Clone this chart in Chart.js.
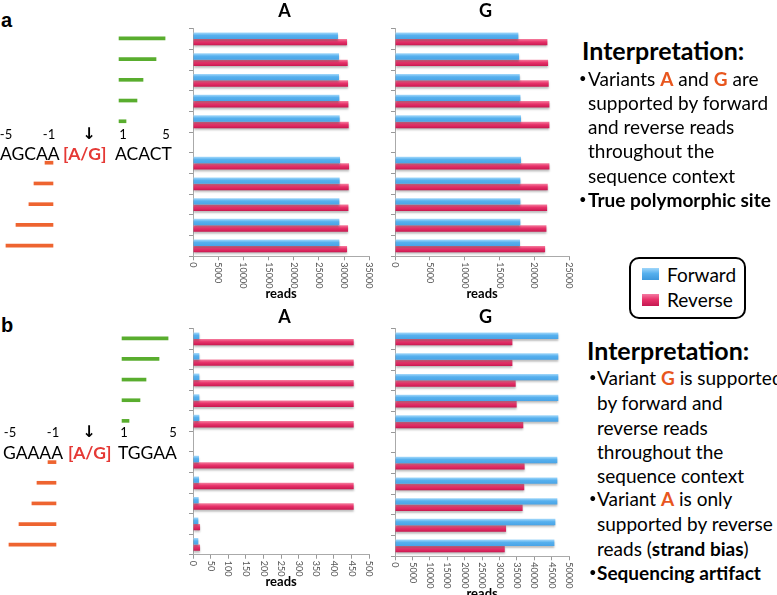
<!DOCTYPE html>
<html>
<head>
<meta charset="utf-8">
<script src="https://cdn.jsdelivr.net/npm/chart.js@4.4.0/dist/chart.umd.min.js"></script>
<style>
  body { margin: 0; width: 777px; height: 595px; position: relative; overflow: hidden; background: #fff; font-family: Lato, "Open Sans", sans-serif; color: #000; }
  .box { position: absolute; }
  .t { position: absolute; white-space: nowrap; transform: translateY(-50%); }
  .c { position: absolute; white-space: nowrap; transform: translate(-50%, -50%); }
  .seq { font-size: 17.5px; }
  .red { color: #e53935; font-weight: bold; }
  .hl { color: #e8561e; font-weight: bold; }
  .pos { font-size: 13px; }
  .arrow { font-family: "DejaVu Sans"; font-weight: bold; font-size: 16px; }
  .panel { font-family: Arial, "Liberation Sans", sans-serif; font-weight: bold; font-size: 20px; }
  .head { font-weight: bold; font-size: 25px; }
  .txt { font-size: 19px; }
  .bul { font-size: 13px; }
  .legend { position: absolute; left: 629px; top: 257px; width: 113px; height: 58px; border: 2px solid #000; border-radius: 10px; }
  .sw { position: absolute; left: 11px; width: 17px; height: 12px; }
</style>
</head>
<body>

<div class="t panel" style="left:1px; top:20px;">a</div>
<div class="t panel" style="left:1px; top:325px;">b</div>

<!-- reads around the site, panel a -->
<div class="box" style="left:0; top:0;"><canvas id="readsA" width="180" height="300"></canvas></div>
<div class="c pos" style="left:6px; top:134px;">-5</div>
<div class="c pos" style="left:49px; top:134px;">-1</div>
<div class="c arrow" style="left:89px; top:133px;">↓</div>
<div class="c pos" style="left:123px; top:134px;">1</div>
<div class="c pos" style="left:166px; top:134px;">5</div>
<div class="t seq" style="left:0; top:153px;">AGCAA</div>
<div class="t seq red" style="left:63px; top:153px;">[A/G]</div>
<div class="t seq" style="left:115px; top:153px;">ACACT</div>

<!-- reads around the site, panel b -->
<div class="box" style="left:3px; top:300px;"><canvas id="readsB" width="180" height="295"></canvas></div>
<div class="c pos" style="left:10px; top:432px;">-5</div>
<div class="c pos" style="left:53px; top:432px;">-1</div>
<div class="c arrow" style="left:89px; top:431px;">↓</div>
<div class="c pos" style="left:124px; top:432px;">1</div>
<div class="c pos" style="left:173px; top:432px;">5</div>
<div class="t seq" style="left:3px; top:452px;">GAAAA</div>
<div class="t seq red" style="left:68px; top:452px;">[A/G]</div>
<div class="t seq" style="left:118px; top:452px;">TGGAA</div>

<!-- bar charts -->
<div class="box" style="left:180px; top:0;"><canvas id="aA" width="200" height="304"></canvas></div>
<div class="box" style="left:380px; top:0;"><canvas id="aG" width="200" height="304"></canvas></div>
<div class="box" style="left:180px; top:300px;"><canvas id="bA" width="200" height="292"></canvas></div>
<div class="box" style="left:380px; top:300px;"><canvas id="bG" width="200" height="304"></canvas></div>

<!-- interpretation, panel a -->
<div class="t head" style="left:582px; top:50px;">Interpretation:</div>
<div class="t bul" style="left:579px; top:78px;">•</div>
<div class="t txt" style="left:588px; top:78px;">Variants <span class="hl">A</span> and <span class="hl">G</span> are</div>
<div class="t txt" style="left:588px; top:102px;">supported by forward</div>
<div class="t txt" style="left:588px; top:126px;">and reverse reads</div>
<div class="t txt" style="left:588px; top:150px;">throughout the</div>
<div class="t txt" style="left:588px; top:175px;">sequence context</div>
<div class="t bul" style="left:579px; top:199px;">•</div>
<div class="t txt" style="left:588px; top:199px;"><b>True polymorphic site</b></div>

<!-- shared legend -->
<div class="legend">
  <div class="sw" style="top:9px; background:linear-gradient(#9fd6fa,#56b0ee 45%,#3c98dc);"></div>
  <div class="t txt" style="left:36px; top:15px;">Forward</div>
  <div class="sw" style="top:35px; background:linear-gradient(#f47aa2,#e8336b 45%,#c41850);"></div>
  <div class="t txt" style="left:36px; top:40px;">Reverse</div>
</div>

<!-- interpretation, panel b -->
<div class="t head" style="left:587px; top:350px;">Interpretation:</div>
<div class="t bul" style="left:589px; top:377px;">•</div>
<div class="t txt" style="left:597px; top:377px;">Variant <span class="hl">G</span> is supported</div>
<div class="t txt" style="left:597px; top:402px;">by forward and</div>
<div class="t txt" style="left:597px; top:427px;">reverse reads</div>
<div class="t txt" style="left:597px; top:451px;">throughout the</div>
<div class="t txt" style="left:597px; top:475px;">sequence context</div>
<div class="t bul" style="left:589px; top:498px;">•</div>
<div class="t txt" style="left:597px; top:498px;">Variant <span class="hl">A</span> is only</div>
<div class="t txt" style="left:597px; top:523px;">supported by reverse</div>
<div class="t txt" style="left:597px; top:548px;">reads (<b>strand bias</b>)</div>
<div class="t bul" style="left:589px; top:572px;">•</div>
<div class="t txt" style="left:597px; top:572px;"><b>Sequencing artifact</b></div>

<script>
// 11 slots per chart: 5 positions, an empty slot, 5 positions
const rows = ['r1', 'r2', 'r3', 'r4', 'r5', '', 'r6', 'r7', 'r8', 'r9', 'r10'];

// panel a (true polymorphic site)
const fwdA_a = [28800, 29000, 29000, 29070, 29130, null, 29200, 29130, 29070, 29070, 29070];
const revA_a = [30600, 30730, 30800, 30870, 30930, null, 31000, 30930, 30870, 30800, 30600];
const fwdG_a = [17700, 17800, 17900, 18000, 18080, null, 18080, 17990, 17990, 17990, 17940];
const revG_a = [21870, 21970, 22060, 22160, 22160, null, 22160, 21920, 21830, 21730, 21540];

// panel b (sequencing artifact)
const fwdA_b = [18, 18, 18, 18, 18, null, 17, 17, 16, 15, 15];
const revA_b = [456, 456, 456, 456, 456, null, 456, 456, 456, 20, 20];
const fwdG_b = [46870, 46870, 46870, 46870, 46870, null, 46590, 46590, 46590, 46020, 45740];
const revG_b = [33690, 33690, 34640, 34920, 36820, null, 37200, 37100, 36630, 31880, 31500];

// schematic reads: [start, end] in base positions relative to the site
const fwdReads = [[0.63, 4.91], [0.63, 4.07], [0.63, 2.86], [0.63, 2.3], [0.63, 1.28], null, null, null, null, null, null];
const revReads = [null, null, null, null, null, null, [-1.44, -0.73], [-2.42, -0.73], [-2.87, -0.73], [-4.02, -0.73], [-4.91, -0.73]];

const CAT = 0.62;
const FONT = 'Lato, "Open Sans", sans-serif';

function barFill(base, light, dark) {
  return function (ctx) {
    const y = ctx.chart.scales.y;
    if (!y || ctx.type !== 'data') return base;
    const c = y.getPixelForValue(ctx.dataIndex);
    const band = y.height / rows.length * CAT / 2;
    if (!isFinite(c) || !isFinite(band)) return base;
    const top = ctx.datasetIndex === 0 ? c - band : c;
    const g = ctx.chart.ctx.createLinearGradient(0, top, 0, top + band);
    g.addColorStop(0, light);
    g.addColorStop(0.45, base);
    g.addColorStop(1, dark);
    return g;
  };
}

const shadow = {
  id: 'shadow',
  beforeDatasetsDraw(chart) {
    const c = chart.ctx;
    c.save();
    c.shadowColor = 'rgba(0,0,0,0.25)';
    c.shadowBlur = 2;
    c.shadowOffsetY = 2;
  },
  afterDatasetsDraw(chart) { chart.ctx.restore(); }
};

// x tick labels turned clockwise, read top to bottom
const downLabels = {
  id: 'downLabels',
  afterDraw(chart) {
    const s = chart.scales.x, c = chart.ctx;
    c.save();
    c.fillStyle = '#555';
    c.font = '9px ' + FONT;
    c.textAlign = 'left';
    c.textBaseline = 'middle';
    s.ticks.forEach((t, i) => {
      c.save();
      c.translate(s.getPixelForTick(i), s.top + 6);
      c.rotate(Math.PI / 2);
      c.fillText(t.label, 0, 0);
      c.restore();
    });
    c.restore();
  }
};

function barChart(id, title, fwd, rev, max, step, padLeft, titleTop) {
  new Chart(document.getElementById(id), {
    type: 'bar',
    data: {
      labels: rows,
      datasets: [
        { label: 'Forward', data: fwd, backgroundColor: barFill('#56b0ee', '#a6dafb', '#4aa4e6') },
        { label: 'Reverse', data: rev, backgroundColor: barFill('#e8336b', '#f5809f', '#c8184f') }
      ]
    },
    options: {
      indexAxis: 'y',
      responsive: false,
      animation: false,
      devicePixelRatio: 1,
      categoryPercentage: CAT,
      barPercentage: 1,
      layout: { padding: { left: padLeft, right: 0, top: 0, bottom: 0 } },
      plugins: {
        legend: { display: false },
        tooltip: { enabled: false },
        title: { display: true, text: title, color: '#000', font: { family: FONT, size: 18, weight: 'bold' }, padding: { top: titleTop, bottom: 7 - titleTop } }
      },
      scales: {
        y: {
          grid: { drawOnChartArea: false, drawTicks: true, tickLength: 4, color: '#999' },
          border: { color: '#aaa' },
          ticks: { display: false }
        },
        x: {
          min: 0, max: max,
          grid: { drawOnChartArea: false, drawTicks: true, tickLength: 4, color: '#999' },
          border: { color: '#aaa' },
          ticks: { stepSize: step, minRotation: 90, maxRotation: 90, color: 'rgba(0,0,0,0)', font: { family: FONT, size: 9 }, padding: 0, callback: v => String(v) },
          title: { display: true, text: 'reads', color: '#000', font: { family: FONT, size: 13, weight: 'bold' }, padding: { top: 0, bottom: 2 } }
        }
      }
    },
    plugins: [shadow, downLabels]
  });
}

function readsChart(id, padTop, padBottom) {
  new Chart(document.getElementById(id), {
    type: 'bar',
    data: {
      labels: rows,
      datasets: [
        { data: fwdReads, xAxisID: 'xf', backgroundColor: '#59ad2e', barThickness: 3 },
        { data: revReads, xAxisID: 'xr', backgroundColor: '#ee6430', barThickness: 3 }
      ]
    },
    options: {
      indexAxis: 'y',
      responsive: false,
      animation: false,
      devicePixelRatio: 1,
      grouped: false,
      layout: { padding: { left: 0, right: 0, top: padTop, bottom: padBottom } },
      plugins: { legend: { display: false }, tooltip: { enabled: false } },
      scales: {
        y: { display: false },
        xf: { type: 'linear', display: false, min: -10.44, max: 6.3 },
        xr: { type: 'linear', display: false, min: -5.44, max: 10.56 }
      }
    }
  });
}

readsChart('readsA', 28, 44);
readsChart('readsB', 28, 40);
barChart('aA', 'A', fwdA_a, revA_a, 35000, 5000, 9, 0);
barChart('aG', 'G', fwdG_a, revG_a, 25000, 5000, 11, 0);
barChart('bA', 'A', fwdA_b, revA_b, 500, 50, 9, 6);
barChart('bG', 'G', fwdG_b, revG_b, 50000, 5000, 11, 6);
</script>
</body>
</html>
